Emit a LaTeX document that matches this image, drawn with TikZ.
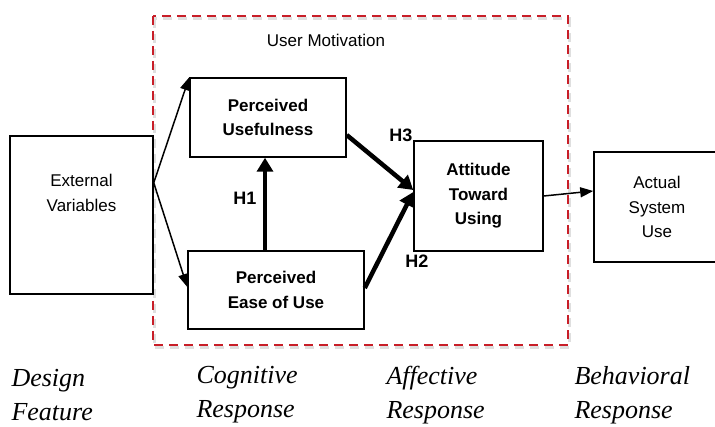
\documentclass[tikz,border=0pt]{standalone}
\usepackage{fontspec}
\setmainfont{Liberation Sans}
\newfontfamily\stagefont{Liberation Serif}
\usetikzlibrary{positioning, calc, arrows.meta}

\definecolor{frame red}{RGB}{200,30,40}

\begin{document}
\begin{tikzpicture}[x=1pt, y=-1pt,
    box/.style={draw, line width=1.5pt, inner sep=0pt, align=center},
    txt/.style={align=center, font=\fontsize{17}{24.5}\selectfont},
    bold txt/.style={txt, font=\fontsize{17}{24.5}\selectfont\bfseries},
    link/.style={line width=1.5pt, -{Triangle[length=13pt, width=10pt]}},
    hyp/.style={line width=4.5pt, -{Triangle[length=14pt, width=16pt]}},
    hlabel/.style={font=\fontsize{18}{20}\selectfont\bfseries},
    stage/.style={align=left, anchor=west, font=\fontsize{26}{34}\stagefont\itshape}]
    \useasboundingbox (0,0) rectangle (715,427);

    % user motivation frame
    \draw[gray!25, line width=3pt, dash pattern=on 9pt off 6pt] (154,19) rectangle (569,348);
    \draw[frame red, line width=1.6pt, dash pattern=on 9pt off 6pt] (153,16) rectangle (568,345);
    \node[txt] (motive) at (326,40) {User Motivation};

    % boxes
    \node[box, minimum width=143pt, minimum height=158pt] (ext) at (81.5,215) {};
    \node[txt] (ext-txt) at (81.5,193) {External\\Variables};
    \node[box, bold txt, minimum width=156pt, minimum height=79pt] (pu) at (268,117.5) {Perceived\\Usefulness};
    \node[box, bold txt, minimum width=176pt, minimum height=78pt] (peou) at (276,290) {Perceived\\Ease of Use};
    \node[box, bold txt, minimum width=129pt, minimum height=110pt] (att) at (478.5,196) {Attitude\\Toward\\Using};
    \node[box, txt, minimum width=126pt, minimum height=110pt] (use) at (657,207) {Actual\\System\\Use};

    % connectors
    \draw[link] (ext.24) -- (pu.north west);
    \draw[link] (ext.24) -- ([yshift=3pt]peou.west);
    \draw[hyp] ([xshift=-11pt]peou.north) -- ([xshift=-11pt]peou.north |- pu.south);
    \draw[hyp] ([yshift=-17.5pt]pu.east) -- ([yshift=6pt]att.west);
    \draw[hyp] ([yshift=2pt]peou.east) -- ([yshift=4pt]att.west);
    \draw[link] (att.east) -- ([yshift=16pt]use.west);

    \node[hlabel] (h1) at (245,198) {H1};
    \node[hlabel] (h2) at (417,261) {H2};
    \node[hlabel] (h3) at (401,135) {H3};

    % stages
    \node[stage] (design) at (8,395) {Design\\Feature};
    \node[stage] (cognitive) at (193,395) {Cognitive\\Response};
    \node[stage] (affective) at (383,395) {Affective\\Response};
    \node[stage] (behavioral) at (571,395) {Behavioral\\Response};

\end{tikzpicture}
\end{document}
